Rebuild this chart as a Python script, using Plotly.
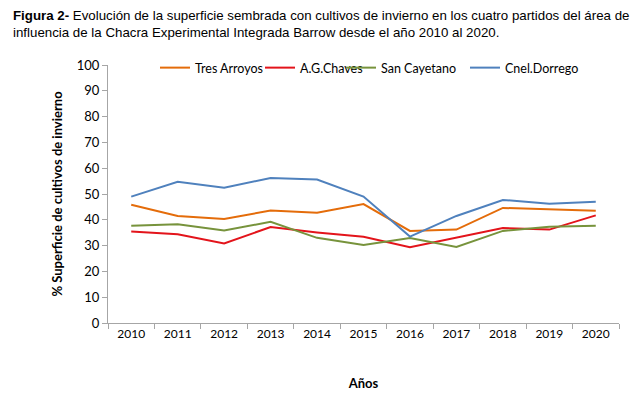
import plotly.graph_objects as go

years = ["2010", "2011", "2012", "2013", "2014", "2015", "2016", "2017", "2018", "2019", "2020"]
tres_arroyos = [45.8, 41.5, 40.3, 43.6, 42.7, 46.1, 35.7, 36.2, 44.6, 44.1, 43.5]
ag_chaves = [35.5, 34.4, 30.8, 37.2, 35.1, 33.4, 29.4, 33.2, 36.8, 36.2, 41.7]
san_cayetano = [37.7, 38.3, 35.9, 39.2, 33.0, 30.2, 32.9, 29.5, 35.7, 37.3, 37.7]
cnel_dorrego = [49.0, 54.7, 52.4, 56.2, 55.6, 49.0, 33.5, 41.5, 47.7, 46.2, 47.0]

series = [
    ("Tres Arroyos", tres_arroyos, "#E46C0A"),
    ("A.G.Chaves", ag_chaves, "#E3141B"),
    ("San Cayetano", san_cayetano, "#77933C"),
    ("Cnel.Dorrego", cnel_dorrego, "#4F81BD"),
]

L, R, T, B = 108, 21, 65, 71
W, H = 640, 394
pw, ph = W - L - R, H - T - B

legend_names = ["legend", "legend2", "legend3", "legend4"]
text_starts = [194, 299, 380, 504]

fig = go.Figure()
for (name, vals, color), lg in zip(series, legend_names):
    fig.add_trace(go.Scatter(x=years, y=vals, mode="lines", name=name,
                             line=dict(color=color, width=2), legend=lg))

legend_style = dict(orientation="h", xanchor="left", yanchor="middle",
                    font=dict(family="Lato, sans-serif", size=12.5, color="#000000"),
                    bgcolor="rgba(0,0,0,0)", itemwidth=30)
layout_legends = {}
for lg, ts in zip(legend_names, text_starts):
    layout_legends[lg] = dict(legend_style, x=(ts - 39 - L) / pw, y=(H - B - 68) / ph)

def py(pix):
    return (H - B - pix) / ph

title_font = dict(family="Liberation Sans, Arial, sans-serif", size=13.3, color="#000000")

fig.update_layout(
    width=W, height=H,
    paper_bgcolor="white", plot_bgcolor="white",
    margin=dict(l=L, r=R, t=T, b=B, autoexpand=False),
    font=dict(family="Lato, Open Sans, sans-serif", size=12, color="#000000"),
    showlegend=True,
    annotations=[
        dict(text="<b>Figura 2-</b> Evolución de la superficie sembrada con cultivos de invierno en los cuatro partidos del área de",
             xref="paper", yref="paper", x=(11 - L) / pw, y=py(15), xanchor="left", yanchor="middle",
             showarrow=False, font=title_font),
        dict(text="influencia de la Chacra Experimental Integrada Barrow desde el año 2010 al 2020.",
             xref="paper", yref="paper", x=(11 - L) / pw, y=py(32), xanchor="left", yanchor="middle",
             showarrow=False, font=title_font),
    ],
    **layout_legends,
)

fig.update_xaxes(
    type="category", range=[-0.5, 10.5], tickson="boundaries",
    showline=True, linecolor="#A6A6A6", linewidth=1,
    ticks="outside", ticklen=5, tickcolor="#A6A6A6",
    showgrid=False, zeroline=False,
    tickfont=dict(family="Lato, sans-serif", size=12),
    title=dict(text="<b>Años</b>", font=dict(family="Lato, sans-serif", size=13), standoff=38),
)
fig.update_yaxes(
    range=[0, 100], dtick=10,
    showline=True, linecolor="#A6A6A6", linewidth=1,
    ticks="outside", ticklen=5, tickcolor="#A6A6A6",
    showgrid=False, zeroline=False,
    tickfont=dict(family="Lato, sans-serif", size=13),
    title=dict(text="<b>% Superficie de cultivos de invierno</b>", font=dict(family="Lato, sans-serif", size=13), standoff=11),
)

fig.write_html("out.html", config={"displayModeBar": False},
               post_script="document.body.style.margin='0';document.body.style.padding='0';")
